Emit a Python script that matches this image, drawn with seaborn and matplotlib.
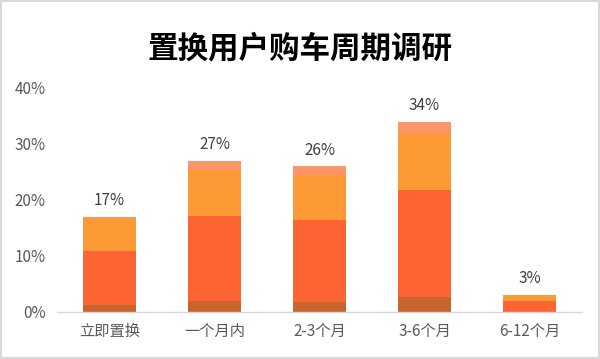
import numpy as np
import pandas as pd
import matplotlib
matplotlib.use("Agg")
import matplotlib.pyplot as plt
import seaborn as sns
from matplotlib.patches import Rectangle

categories = ["立即置换", "一个月内", "2-3个月", "3-6个月", "6-12个月"]
totals = [17, 27, 26, 34, 3]
seg_dark = [1.2, 2.0, 1.8, 2.6, 0.0]
seg_red = [9.6, 15.2, 14.7, 19.1, 2.0]
seg_orange = [5.9, 8.2, 8.0, 10.2, 1.0]
seg_pale = [0.3, 1.6, 1.5, 2.1, 0.0]
yticks = [0, 10, 20, 30, 40]

colors = ["#C8642F", "#FD6433", "#FE9A35", "#FC9568"]

sns.set_style("white")
plt.rcParams["font.family"] = ["Noto Sans CJK SC", "DejaVu Sans"]

df = pd.DataFrame({
    "cat": categories,
    "dark": seg_dark,
    "red": seg_red,
    "orange": seg_orange,
    "pale": seg_pale,
})
# cumulative heights, drawn back to front
df["c1"] = df["dark"]
df["c2"] = df["c1"] + df["red"]
df["c3"] = df["c2"] + df["orange"]
df["c4"] = df["c3"] + df["pale"]

fig = plt.figure(figsize=(6, 3.59), dpi=100)
ax = fig.add_axes([0.095, 0.131, 0.875, 0.624])

for col, c in zip(["c4", "c3", "c2", "c1"], colors[::-1]):
    sns.barplot(data=df, x="cat", y=col, order=categories, color=c,
                saturation=1, width=0.5, ax=ax, linewidth=0)

for i, t in enumerate(totals):
    ax.text(i, df["c4"][i] + 1.4, f"{t}%", ha="center", va="bottom",
            fontsize=11, color="#404040")

ax.set_xlim(-0.5, 4.5)
ax.set_ylim(0, 40)
ax.set_yticks(yticks)
ax.set_yticklabels([f"{v}%" for v in yticks], fontsize=11, color="#595959")
ax.tick_params(axis="x", labelsize=11, labelcolor="#595959", length=0, pad=8)
ax.tick_params(axis="y", length=0, pad=8)
ax.set_xlabel("")
ax.set_ylabel("")
for s in ["left", "right", "top"]:
    ax.spines[s].set_visible(False)
ax.spines["bottom"].set_color("#D9D9D9")
ax.spines["bottom"].set_linewidth(1)

fig.text(0.5, 0.865, "置换用户购车周期调研", ha="center", va="center",
         fontsize=22, fontweight="bold", color="#000000")

fig.patches.append(Rectangle((0.002, 0.003), 0.996, 0.994, transform=fig.transFigure,
                             fill=False, edgecolor="#D9D9D9", linewidth=1.5))

plt.savefig("out.png", dpi=100)
